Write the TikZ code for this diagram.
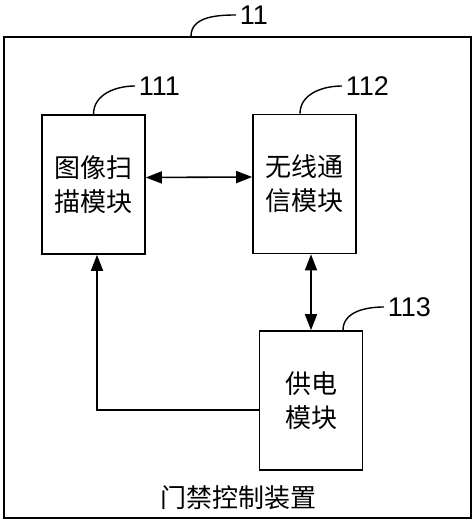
\documentclass[tikz,border=0pt]{standalone}
\usepackage{fontspec}
\setmainfont{Liberation Sans}
\newfontfamily\cjk{Noto Sans CJK SC}
\usetikzlibrary{arrows.meta,positioning}

\begin{document}
\begin{tikzpicture}[x=1pt, y=1pt, line width=1.6pt, >={Triangle[length=16pt,width=12pt]},
    module/.style = {draw, minimum width=103pt, minimum height=139pt, align=center, inner sep=0pt,
                     font=\cjk\fontsize{26}{34}\selectfont},
    tag/.style = {anchor=west, inner sep=3pt, font=\fontsize{27}{30}\selectfont}]
  \useasboundingbox (0,0) rectangle (474,521);

  % Outer device
  \node[draw, minimum width=467pt, minimum height=481pt, inner sep=0pt] (dev) at (237.5,243.5) {};
  \node[font=\cjk\fontsize{26}{30}\selectfont] (dev_name) at (238,23) {门禁控制装置};

  % Modules
  \node[module] (scan) at (93.5,336.5) {图像扫\\描模块};
  \node[module] (comm) at (304.5,337) {无线通\\信模块};
  \node[module] (power) at (311,120.5) {供电\\模块};

  % Reference numbers
  \node[tag] (n11) at (236,506) {11};
  \node[tag] (n111) at (135,435) {111};
  \node[tag] (n112) at (342,435) {112};
  \node[tag] (n113) at (384,214) {113};

  % Leader lines
  \draw[line width=1.4pt] ([xshift=-46.5pt]dev.north) to[out=90, in=180] (n11.west);
  \draw[line width=1.4pt] (scan.north) to[out=90, in=180] (n111.west);
  \draw[line width=1.4pt] ([xshift=-4.5pt]comm.north) to[out=90, in=180] (n112.west);
  \draw[line width=1.4pt] ([xshift=32pt]power.north) to[out=90, in=180] (n113.west);

  % Links between modules
  \draw[<->] ([yshift=7pt]scan.east) -- ([yshift=7pt]comm.west);
  \draw[<->] (comm.south -| power.north) -- (power.north);
  \draw[->] ([yshift=-9.5pt]power.west) -| ([xshift=3.5pt]scan.south);

\end{tikzpicture}
\end{document}
